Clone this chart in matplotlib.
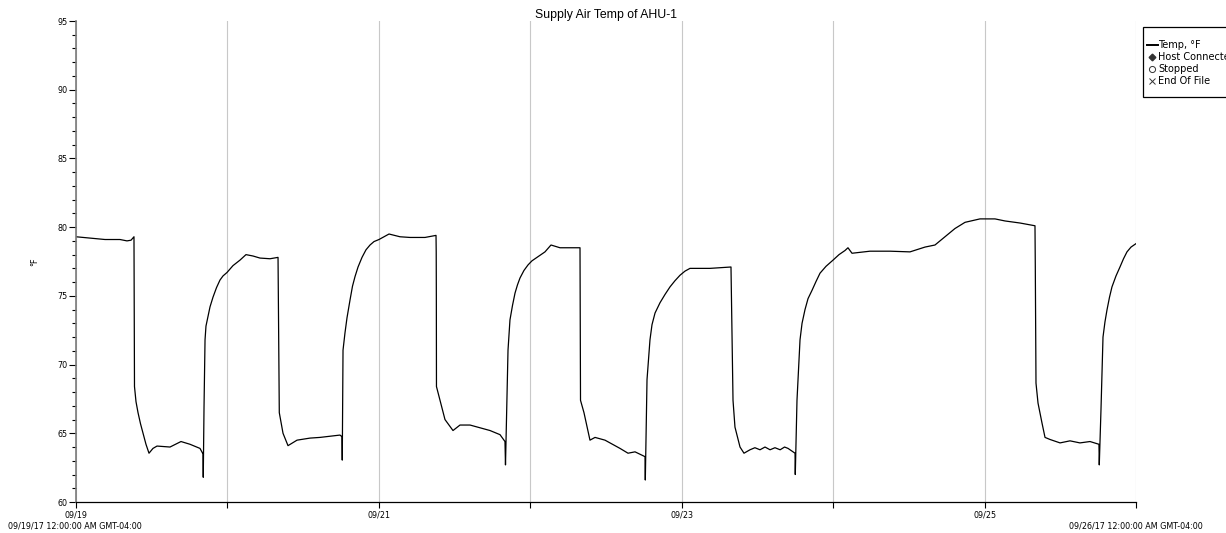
import numpy as np
import pandas as pd
import matplotlib
matplotlib.use("Agg")
import matplotlib.pyplot as plt
import matplotlib.dates as mdates
from matplotlib.ticker import MultipleLocator, FuncFormatter
from matplotlib.patches import Rectangle
from matplotlib.lines import Line2D

# Logged supply air temperature, hours elapsed since 09/19/17 00:00
hours = [
    0.0, 2.22, 4.6, 6.97, 8.08, 8.72, 9.19,
    9.27, 9.51, 9.83, 10.22, 10.62, 11.09, 11.57, 12.2, 12.84, 14.9, 16.64,
    18.07, 19.65, 20.13,
    20.17, 20.29, 20.45, 20.6, 20.92, 21.24, 21.71, 22.27, 22.82, 23.3,
    23.93, 24.88, 25.99, 26.94, 28.05, 29.16, 30.75, 32.02,
    32.22, 32.81, 33.6, 35.03, 37.09, 38.67, 41.84, 42.16,
    42.2, 42.32, 42.63, 42.95, 43.43, 43.82, 44.22, 44.7, 45.33, 45.96,
    46.6, 47.23, 48.02, 49.61, 51.35, 52.94, 55.31, 57.06,
    57.09, 57.11, 57.13, 57.69, 58.48, 59.75, 60.86, 62.45, 64.03, 65.62,
    67.2, 67.99,
    68.07, 68.47, 68.78, 69.18, 69.58, 69.97, 70.37, 71.0, 71.64, 72.27,
    73.06, 73.7, 74.33, 75.28, 76.71, 78.29, 79.88,
    79.96, 80.51, 81.46, 82.26, 83.84, 86.22, 87.49, 88.6, 90.18,
    90.23, 90.5, 90.97, 91.29, 91.77, 92.56, 93.35, 94.14, 94.93, 95.73,
    96.52, 97.31, 100.48, 103.81,
    104.13, 104.44, 105.24, 105.87, 106.82, 107.6, 108.41, 109.2, 110.0,
    110.78, 111.6, 112.3, 112.85, 113.96,
    114.0, 114.27, 114.75, 115.07, 115.54, 116.02, 116.65, 117.29, 117.92,
    118.87, 119.98, 120.93, 121.88, 122.35,
    122.99, 125.84, 129.01, 132.18, 134.56, 136.14, 137.73, 139.31, 140.9,
    143.27, 145.65, 147.24, 149.62, 151.99,
    152.04, 152.15, 152.47, 153.1, 153.58, 154.37, 155.96, 157.54, 159.12,
    160.71, 162.13,
    162.18, 162.45, 162.77, 163.08, 163.4, 163.8, 164.19, 164.83, 165.46,
    166.02, 166.57, 167.21, 168.0,
]
temps_f = [
    79.3, 79.2, 79.1, 79.1, 79.0, 79.05, 79.3,
    68.4, 67.3, 66.5, 65.7, 65.0, 64.2, 63.55, 63.9, 64.07, 64.0, 64.4,
    64.2, 63.9, 63.5,
    61.8, 66.9, 71.8, 72.8, 73.5, 74.2, 74.9, 75.6, 76.15, 76.45,
    76.7, 77.2, 77.6, 78.0, 77.9, 77.75, 77.7, 77.8,
    66.5, 65.0, 64.1, 64.5, 64.65, 64.7, 64.87, 64.75,
    63.05, 71.05, 72.3, 73.4, 74.7, 75.7, 76.4, 77.1, 77.8, 78.35,
    78.7, 78.95, 79.1, 79.5, 79.3, 79.25, 79.25, 79.4,
    78.2, 75.0, 68.4, 67.4, 66.0, 65.2, 65.6, 65.6, 65.4, 65.2,
    64.9, 64.4,
    62.7, 71.05, 73.25, 74.3, 75.2, 75.8, 76.3, 76.85, 77.25, 77.55,
    77.8, 78.0, 78.2, 78.7, 78.5, 78.5, 78.5,
    67.4, 66.5, 64.5, 64.7, 64.5, 63.9, 63.55, 63.65, 63.3,
    61.6, 68.9, 71.8, 72.9, 73.75, 74.5, 75.1, 75.65, 76.1, 76.5,
    76.8, 77.0, 77.0, 77.1,
    67.4, 65.45, 64.0, 63.55, 63.8, 63.95, 63.8, 64.0, 63.8,
    63.95, 63.8, 64.0, 63.9, 63.55,
    62.0, 67.4, 71.8, 73.0, 74.0, 74.8, 75.4, 76.05, 76.65,
    77.15, 77.6, 78.0, 78.3, 78.5,
    78.1, 78.25, 78.25, 78.2, 78.55, 78.7, 79.3, 79.9, 80.35,
    80.6, 80.6, 80.45, 80.3, 80.1,
    77.1, 68.65, 67.2, 65.75, 64.7, 64.55, 64.3, 64.45, 64.3,
    64.4, 64.2,
    62.7, 66.7, 72.0, 73.1, 73.97, 74.9, 75.65, 76.45, 77.1,
    77.7, 78.2, 78.55, 78.8,
]

start = pd.Timestamp("2017-09-19 00:00:00")
end = pd.Timestamp("2017-09-26 00:00:00")
labeled_days = ["09/19", "09/21", "09/23", "09/25"]
y_range = (60, 95)

title = "Supply Air Temp of AHU-1"
y_label = "\u00b0F"
start_label = "09/19/17 12:00:00 AM GMT-04:00"
end_label = "09/26/17 12:00:00 AM GMT-04:00"
legend_items = ["Temp, \u00b0F", "Host Connected", "Stopped", "End Of File"]

times = start + pd.to_timedelta(hours, unit="h")

W, H = 1226, 533
fig = plt.figure(figsize=(W / 100, H / 100), dpi=100)
ax = fig.add_axes([76 / W, 1 - 502 / H, (1136 - 76) / W, (502 - 21) / H])

ax.plot(times, temps_f, color="black", linewidth=0.9, solid_joinstyle="round")

ax.set_xlim(start, end)
ax.set_ylim(*y_range)

# Day gridlines and ticks, dates printed every other day
ax.xaxis.set_major_locator(mdates.DayLocator())


def day_label(val, pos):
    s = mdates.num2date(val).strftime("%m/%d")
    return s if s in labeled_days else ""


ax.xaxis.set_major_formatter(FuncFormatter(day_label))
ax.grid(axis="x", color="#c8c8c8", linewidth=0.8)
ax.yaxis.set_major_locator(MultipleLocator(5))
ax.yaxis.set_minor_locator(MultipleLocator(1))
ax.tick_params(axis="x", which="major", length=4, width=0.8, pad=2,
               labelsize=5.8, colors="black")
ax.tick_params(axis="y", which="major", length=5, width=0.8, pad=1,
               labelsize=5.8)
ax.tick_params(axis="y", which="minor", length=3, width=0.8)
for lbl in ax.get_xticklabels() + ax.get_yticklabels():
    lbl.set_fontfamily("DejaVu Sans")

ax.spines["top"].set_visible(False)
ax.spines["right"].set_visible(False)
ax.spines["left"].set_color("#7a7a7a")
ax.spines["left"].set_linewidth(1.2)
ax.spines["bottom"].set_color("black")
ax.spines["bottom"].set_linewidth(0.9)

ax.set_title(title, fontsize=8.8, family="Liberation Sans", pad=2)
ax.set_ylabel(y_label, fontsize=5.8, family="DejaVu Sans", labelpad=13)

# Overlay in pixel coordinates for the range captions and the legend box
ov = fig.add_axes([0, 0, 1, 1], facecolor="none")
ov.set_xlim(0, W)
ov.set_ylim(H, 0)
ov.axis("off")

ov.text(8, 526, start_label, fontsize=5.8, family="DejaVu Sans",
        ha="left", va="center")
ov.text(1203, 526, end_label, fontsize=5.8, family="DejaVu Sans",
        ha="right", va="center")

ov.add_patch(Rectangle((1143, 27), 120, 70, facecolor="white",
                       edgecolor="black", linewidth=0.9, clip_on=False))
rows_y = [45, 57, 69, 81]
ov.add_line(Line2D([1147, 1158], [rows_y[0], rows_y[0]], color="black",
                   linewidth=1.4))
ov.plot([1151.5], [rows_y[1]], marker="D", markersize=3.4, color="#333333",
        linestyle="none")
ov.plot([1151.5], [rows_y[2]], marker="o", markersize=4.4,
        markerfacecolor="white", markeredgecolor="#333333",
        markeredgewidth=0.7, linestyle="none")
ov.plot([1151.5], [rows_y[3]], marker="x", markersize=4.6, color="#333333",
        markeredgewidth=0.7, linestyle="none")
for y, txt in zip(rows_y, legend_items):
    ov.text(1158.5, y, txt, fontsize=7, family="DejaVu Sans",
            ha="left", va="center")

fig.savefig("out.png", dpi=100)
